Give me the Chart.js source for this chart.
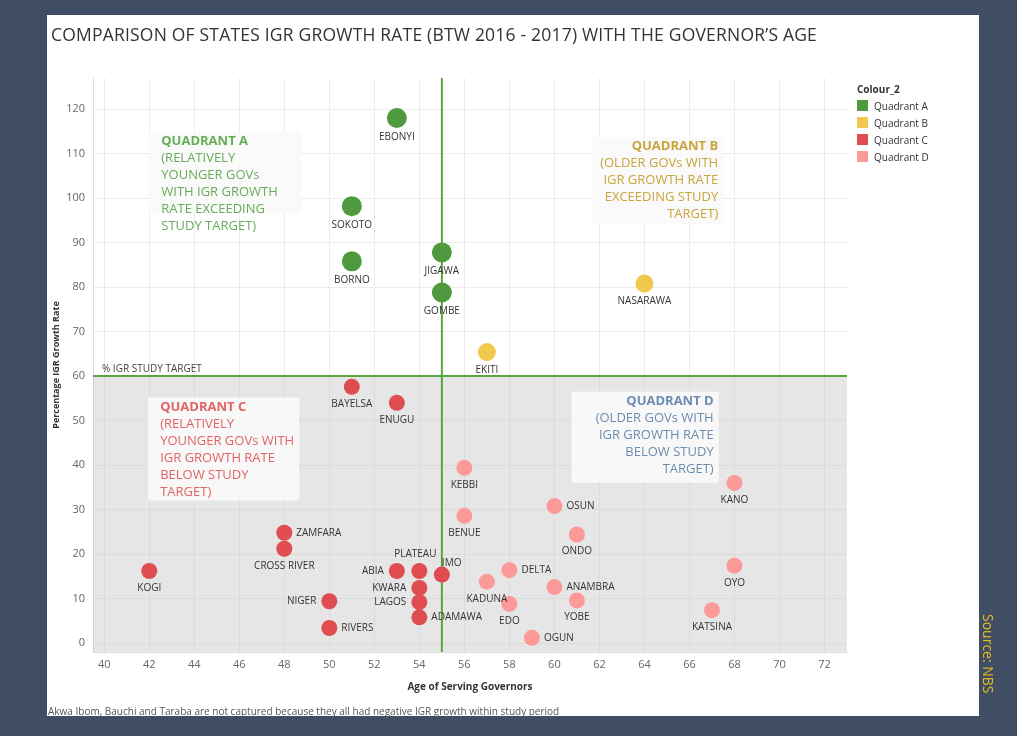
<!DOCTYPE html>
<html><head><meta charset="utf-8">
<script src="https://cdn.jsdelivr.net/npm/chart.js@4"></script>
<style>
body{margin:0;background:#3f4e64;width:1017px;height:736px;overflow:hidden;font-family:"Open Sans",sans-serif}
#panel{position:absolute;left:47px;top:15px;width:932px;height:701px;background:#fff}
#c{position:absolute;left:0;top:0}
#title{position:absolute;left:51px;top:22px;font-size:17.5px;color:#333;line-height:24px;width:775px;letter-spacing:0.2px}
#legend{position:absolute;left:857px;top:80px;font-size:10px;color:#333}
#legend div{height:17px;display:flex;align-items:center}
#legend span{display:inline-block;width:11px;height:11px;margin-right:6px}
#foot{position:absolute;left:48px;top:704px;font-size:10px;color:#555}
#src{position:absolute;left:998px;top:614px;color:#e8b81c;font-size:14px;transform:rotate(90deg);transform-origin:left top;white-space:nowrap}
</style></head><body>
<div id="panel"></div>
<canvas id="c" width="1017" height="736"></canvas>
<div id="title">COMPARISON OF STATES IGR GROWTH RATE (BTW 2016 - 2017) WITH THE GOVERNOR’S AGE</div>
<div id="legend"><div style="font-weight:bold">Colour_2</div>
<div><span style="background:#4f9a3f"></span>Quadrant A</div>
<div><span style="background:#f2c94f"></span>Quadrant B</div>
<div><span style="background:#df4d50"></span>Quadrant C</div>
<div><span style="background:#fb9a98"></span>Quadrant D</div></div>
<div id="foot">Akwa Ibom, Bauchi and Taraba are not captured because they all had negative IGR growth within study period</div>
<div id="src">Source: NBS</div>
<script>
const states=["EBONYI","SOKOTO","BORNO","JIGAWA","GOMBE","EKITI","NASARAWA","BAYELSA","ENUGU","KEBBI","BENUE","OSUN","ONDO","KANO","OYO","KATSINA","ZAMFARA","CROSS RIVER","KOGI","ABIA","PLATEAU","IMO","KWARA","LAGOS","ADAMAWA","NIGER","RIVERS","KADUNA","DELTA","ANAMBRA","YOBE","EDO","OGUN"];
const ages=[53,51,51,55,55,57,64,51,53,56,56,60,61,68,68,67,48,48,42,53,54,55,54,54,54,50,50,57,58,60,61,58,59];
const igr=[118,98.2,85.8,87.8,78.8,65.4,80.8,57.6,54,39.4,28.6,30.8,24.4,36,17.4,7.4,24.8,21.2,16.2,16.2,16.2,15.4,12.4,9.2,5.8,9.4,3.4,13.8,16.4,12.6,9.6,8.8,1.2];
const quadrant=["A","A","A","A","A","B","B","C","C","D","D","D","D","D","D","D","C","C","C","C","C","C","C","C","C","C","C","D","D","D","D","D","D"];
const labelPos=["b","b","b","b","b","b","b","b","b","b","b","r","b","b","b","b","r","b","b","l","a","ar","l","l","r","l","r","b","r","r","b","b","r"];
const xTicks=[40,42,44,46,48,50,52,54,56,58,60,62,64,66,68,70,72];
const targetAge=55, targetIgr=60;
const colors={A:"#4f9a3f",B:"#f2c94f",C:"#df4d50",D:"#fb9a98"};
const radius={A:10,B:9,C:8,D:8};

const overlay={id:'overlay',
 beforeDatasetsDraw(ch){const {ctx,chartArea:a,scales:{x,y}}=ch;ctx.save();
  const yt=y.getPixelForValue(targetIgr);
  ctx.fillStyle='rgba(200,200,200,0.45)';ctx.fillRect(a.left,yt,a.right-a.left,a.bottom-yt);
  const boxes=[
   {x:42.0,y:115,w:152,h:82,align:'left',col:'#66ad57',lines:["QUADRANT A","(RELATIVELY","YOUNGER GOVs","WITH IGR GROWTH","RATE EXCEEDING","STUDY TARGET)"]},
   {x:67.5,y:113.7,w:131,h:87,align:'right',col:'#c9a53c',lines:["QUADRANT B","(OLDER GOVs WITH","IGR GROWTH RATE","EXCEEDING STUDY","TARGET)"]},
   {x:41.95,y:55.2,w:151,h:103,align:'left',col:'#e26466',lines:["QUADRANT C","(RELATIVELY","YOUNGER GOVs WITH","IGR GROWTH RATE","BELOW STUDY","TARGET)"]},
   {x:67.3,y:56.5,w:147,h:91,align:'right',col:'#6d8db0',lines:["QUADRANT D","(OLDER GOVs WITH","IGR GROWTH RATE","BELOW STUDY","TARGET)"]}];
  boxes.forEach((b,i)=>{const px=x.getPixelForValue(b.x),py=y.getPixelForValue(b.y);
   const left=b.align==='left'?px:px-b.w;
   ctx.fillStyle='rgba(250,250,250,0.92)';ctx.fillRect(left,py,b.w,b.h);
   ctx.fillStyle=b.col;ctx.textBaseline='top';ctx.textAlign=b.align;
   b.lines.forEach((t,j)=>{ctx.font=(j==0?'bold ':'')+'13px "Open Sans"';ctx.fillText(t,b.align==='left'?left+12:left+b.w-5,py+3+j*17);});});
  ctx.strokeStyle='#5aa442';ctx.lineWidth=2;
  const xt=x.getPixelForValue(targetAge);
  ctx.beginPath();ctx.moveTo(xt,a.top);ctx.lineTo(xt,a.bottom);ctx.moveTo(a.left,yt);ctx.lineTo(a.right,yt);ctx.stroke();
  ctx.fillStyle='#444';ctx.font='10px "Open Sans"';ctx.textAlign='left';ctx.textBaseline='bottom';
  ctx.fillText('% IGR STUDY TARGET',a.left+9,yt-2);
  ctx.restore();},
 afterDatasetsDraw(ch){const {ctx}=ch;const meta=ch.getDatasetMeta(0);ctx.save();
  ctx.font='10px "Open Sans"';ctx.fillStyle='#333';
  meta.data.forEach((p,i)=>{const r=radius[quadrant[i]];const pos=labelPos[i];let tx=p.x,ty=p.y;
   if(pos==='b'){ctx.textAlign='center';ctx.textBaseline='top';ty=p.y+r+4;}
   else if(pos==='r'){ctx.textAlign='left';ctx.textBaseline='middle';tx=p.x+r+4;}
   else if(pos==='l'){ctx.textAlign='right';ctx.textBaseline='middle';tx=p.x-r-5;}
   else if(pos==='a'){ctx.textAlign='center';ctx.textBaseline='bottom';ty=p.y-r-4;tx=p.x-4;}
   else if(pos==='ar'){ctx.textAlign='left';ctx.textBaseline='bottom';ty=p.y-r+2;tx=p.x;}
   ctx.fillText(states[i],tx,ty);});ctx.restore();}};

new Chart(document.getElementById('c'),{type:'scatter',
 data:{datasets:[{data:ages.map((a,i)=>({x:a,y:igr[i]})),
  backgroundColor:quadrant.map(q=>colors[q]),borderWidth:0,
  pointRadius:quadrant.map(q=>radius[q]),pointHoverRadius:quadrant.map(q=>radius[q])}]},
 options:{responsive:false,animation:false,events:[],
  layout:{padding:{left:47,right:170,top:78,bottom:39}},
  plugins:{legend:{display:false},tooltip:{enabled:false}},
  scales:{
   x:{min:39.5,max:73,afterBuildTicks(s){s.ticks=xTicks.map(v=>({value:v}));},
    afterFit(s){s.height=45;},
    grid:{color:'#ececec',drawTicks:false},border:{color:'#ddd'},
    ticks:{color:'#666',font:{size:11,family:'"Open Sans"'},padding:6},
    title:{display:true,text:'Age of Serving Governors',color:'#333',font:{size:10,weight:'bold',family:'"Open Sans"'}}},
   y:{min:-2,max:127,afterBuildTicks(s){s.ticks=[0,10,20,30,40,50,60,70,80,90,100,110,120].map(v=>({value:v}));},
    afterFit(s){s.width=46;},
    grid:{color:'#ececec',drawTicks:false},border:{color:'#ddd'},
    ticks:{color:'#666',font:{size:11,family:'"Open Sans"'},padding:8},
    title:{display:true,text:'Percentage IGR Growth Rate',color:'#333',font:{size:9,weight:'bold',family:'"Open Sans"'}}}}},
 plugins:[overlay]});
</script></body></html>
